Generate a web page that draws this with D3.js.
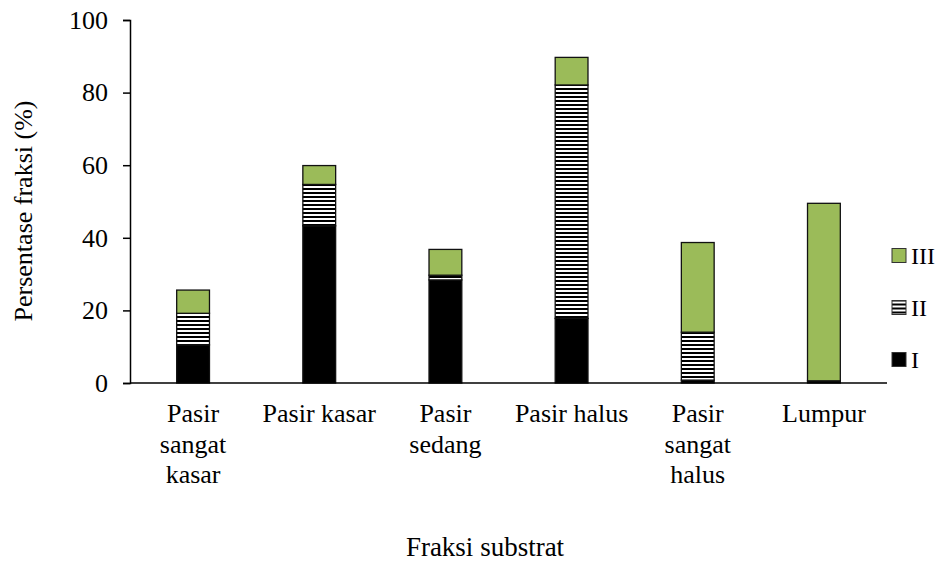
<!DOCTYPE html>
<html>
<head>
<meta charset="UTF-8">
<script src="https://d3js.org/d3.v7.min.js"></script>
<style>
  body { margin: 0; background: #fff; }
</style>
</head>
<body>
<svg width="939" height="561"></svg>
<script>
// Data
const categories = ["Pasir sangat kasar", "Pasir kasar", "Pasir sedang", "Pasir halus", "Pasir sangat halus", "Lumpur"];
const tickLabels = [["Pasir", "sangat", "kasar"], ["Pasir kasar"], ["Pasir", "sedang"], ["Pasir halus"], ["Pasir", "sangat", "halus"], ["Lumpur"]];
const seriesNames = ["I", "II", "III"];
const valuesI   = [10.5, 43.3, 28.4, 17.8, 0.8, 0.6];
const valuesII  = [8.7, 11.4, 1.3, 64.3, 13.2, 0];
const valuesIII = [6.4, 5.2, 7.1, 7.6, 24.7, 48.9];
const yTicks = [0, 20, 40, 60, 80, 100];

const FONT = "'Liberation Serif', 'Times New Roman', Times, serif";

const svg = d3.select("svg");
const margin = { left: 130, right: 52, top: 20, bottom: 178 };
const W = 939, H = 561;

const x = d3.scaleBand().domain(categories).range([margin.left, W - margin.right]).paddingInner(0.74).paddingOuter(0.37);
const y = d3.scaleLinear().domain([0, 100]).range([H - margin.bottom, margin.top]);

// hatch pattern for series II
const defs = svg.append("defs");
const pat = defs.append("pattern").attr("id", "hatch").attr("patternUnits", "userSpaceOnUse")
  .attr("width", 8).attr("height", 4);
pat.append("rect").attr("width", 8).attr("height", 4).attr("fill", "#000");
pat.append("rect").attr("y", 2).attr("width", 8).attr("height", 2).attr("fill", "#fff");

const fills = { I: "#000", II: "url(#hatch)", III: "#9bbb59" };

const rows = categories.map((c, i) => ({ cat: c, I: valuesI[i], II: valuesII[i], III: valuesIII[i] }));
const stacked = d3.stack().keys(seriesNames)(rows);

svg.append("g").selectAll("g").data(stacked).join("g")
  .attr("fill", d => fills[d.key])
  .selectAll("rect").data(d => d.filter(p => p[1] - p[0] > 0)).join("rect")
  .attr("x", d => x(d.data.cat))
  .attr("width", x.bandwidth())
  .attr("y", d => y(d[1]))
  .attr("height", d => y(d[0]) - y(d[1]))
  .attr("stroke", "#111")
  .attr("stroke-width", 1.3);

// y axis
const yAxis = svg.append("g").attr("transform", `translate(${margin.left},0)`)
  .call(d3.axisLeft(y).tickValues(yTicks).tickSize(7).tickPadding(15));
yAxis.attr("font-family", null).attr("font-size", null);
yAxis.select(".domain").attr("stroke", "#000").attr("stroke-width", 1.5);
yAxis.selectAll(".tick line").attr("stroke", "#000").attr("stroke-width", 1.5);
yAxis.selectAll("text").style("font-family", FONT).style("font-size", "26px").attr("fill", "#000");

// x axis baseline
svg.append("line").attr("x1", margin.left).attr("x2", W - margin.right)
  .attr("y1", y(0)).attr("y2", y(0)).attr("stroke", "#000").attr("stroke-width", 1.5);

// category labels
categories.forEach((c, i) => {
  const cx = x(c) + x.bandwidth() / 2;
  const t = svg.append("text").attr("text-anchor", "middle")
    .style("font-family", FONT).style("font-size", "26px")
    .attr("x", cx).attr("y", 422);
  tickLabels[i].forEach((ln, j) => t.append("tspan").attr("x", cx).attr("dy", j ? 30.5 : 0).text(ln));
});

// axis titles
svg.append("text").attr("text-anchor", "middle").style("font-family", FONT).style("font-size", "26px")
  .attr("transform", `translate(32,211) rotate(-90)`).text("Persentase fraksi (%)");
svg.append("text").attr("text-anchor", "middle").style("font-family", FONT).style("font-size", "27px")
  .attr("x", 485).attr("y", 556).text("Fraksi substrat");

// legend
const legY = d3.scalePoint().domain(["III", "II", "I"]).range([255.5, 359.5]);
const leg = svg.append("g").selectAll("g").data(["III", "II", "I"]).join("g")
  .attr("transform", d => `translate(892,${legY(d)})`);
leg.append("rect").attr("x", 0).attr("y", -7).attr("width", 14).attr("height", 14)
  .attr("fill", d => fills[d]).attr("stroke", "#333").attr("stroke-width", 1);
leg.append("text").attr("x", 19).attr("y", 8).style("font-family", FONT).style("font-size", "24px").text(d => d);
</script>
</body>
</html>
